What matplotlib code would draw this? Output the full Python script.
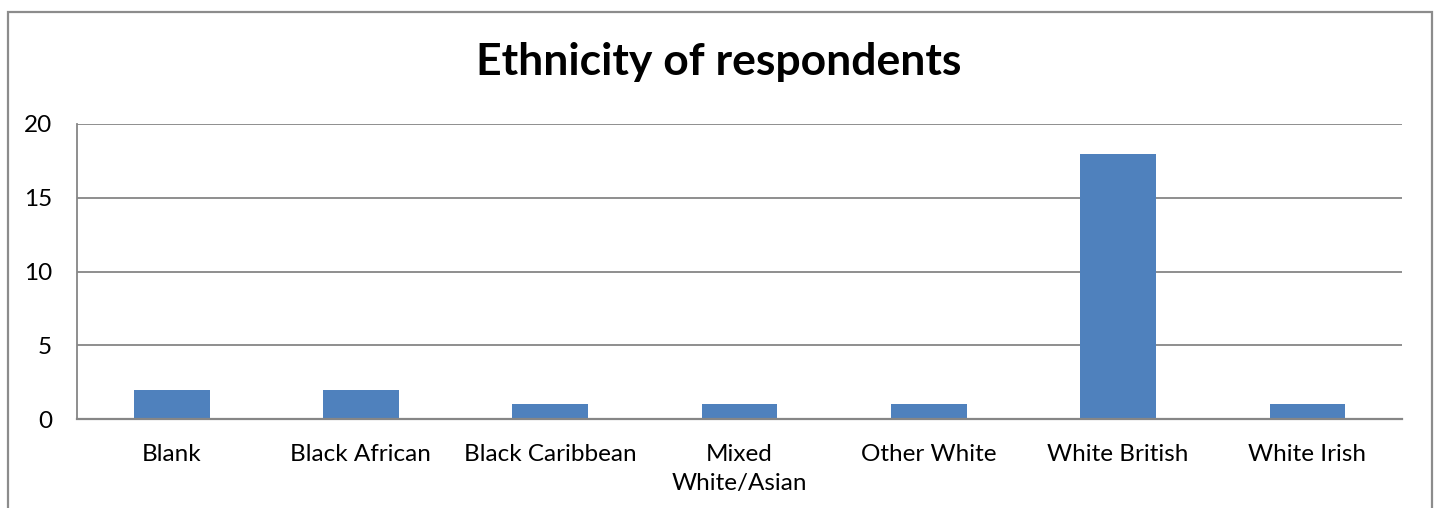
import matplotlib
matplotlib.use("Agg")
import matplotlib.pyplot as plt
from matplotlib.patches import Rectangle

categories = ["Blank", "Black African", "Black Caribbean", "Mixed\nWhite/Asian",
              "Other White", "White British", "White Irish"]
counts = [2, 2, 1, 1, 1, 18, 1]
y_ticks = [0, 5, 10, 15, 20]
title = "Ethnicity of respondents"

W, H = 1439, 508
fig = plt.figure(figsize=(W / 100, H / 100), dpi=100)
plt.rcParams["font.family"] = ["Lato", "DejaVu Sans"]

grid_color = "#868686"
bar_color = "#4F81BD"

# chart frame (open at the bottom)
fig.patches.append(Rectangle((8 / W, -0.1), (1432 - 8) / W, 1.1 - 12 / H,
                             transform=fig.transFigure, fill=False,
                             edgecolor="#8c8c8c", linewidth=1.6))

left, right, top, bottom = 77, 1402, 124, 419
ax = fig.add_axes([left / W, 1 - bottom / H, (right - left) / W, (bottom - top) / H])

x = list(range(len(categories)))
ax.bar(x, counts, width=0.4, color=bar_color, zorder=3)
ax.set_xlim(-0.5, len(categories) - 0.5)
ax.set_ylim(0, 20)
ax.set_yticks(y_ticks)
ax.set_yticklabels([str(v) for v in y_ticks], fontsize=17.5)
ax.set_xticks(x)
ax.set_xticklabels(categories, fontsize=17.5, linespacing=1.45, va="top")
ax.tick_params(axis="both", length=0, colors="black")
ax.tick_params(axis="y", pad=18)
ax.tick_params(axis="x", pad=18)

for v in y_ticks:
    ax.axhline(v, color=grid_color, linewidth=1.3, zorder=1)
for side in ["top", "right"]:
    ax.spines[side].set_visible(False)
ax.spines["left"].set_color(grid_color)
ax.spines["left"].set_linewidth(1.3)
ax.spines["bottom"].set_color(grid_color)
ax.spines["bottom"].set_linewidth(1.6)
ax.spines["bottom"].set_zorder(4)

fig.text(719 / W, 1 - 62 / H, title, ha="center", va="center",
         fontsize=32, fontweight="bold")

fig.savefig("out.png", dpi=100)
